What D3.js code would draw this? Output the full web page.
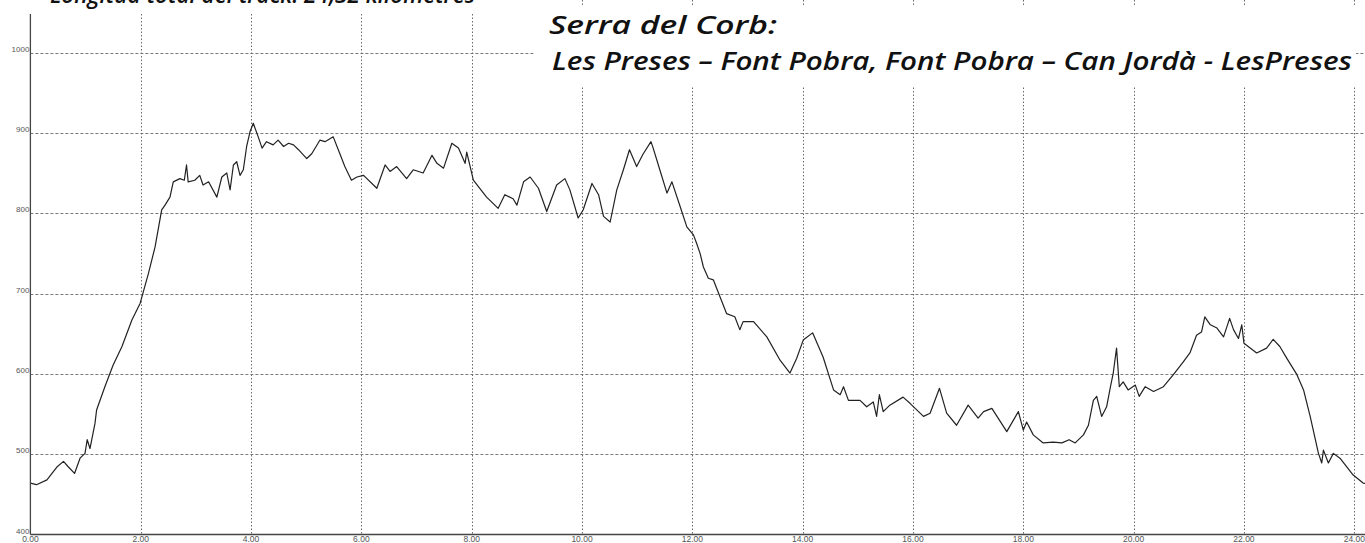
<!DOCTYPE html>
<html>
<head>
<meta charset="utf-8">
<script src="https://cdn.jsdelivr.net/npm/d3@7"></script>
<style>
  html, body { margin: 0; padding: 0; background: #fff; overflow: hidden; }
  svg { display: block; }
  .tick-label { font-family: "Liberation Sans", Arial, sans-serif; font-size: 9px; fill: #555; }
  .title { font-family: "Open Sans", sans-serif; font-style: italic; font-weight: 600; fill: #111; }
</style>
</head>
<body>
<div id="chart"></div>
<script>
// ── dades del perfil ──────────────────────────────────────────────
const distKm = [0.00,0.11,0.30,0.48,0.60,0.69,0.80,0.90,0.99,1.03,1.08,1.17,1.20,1.35,1.50,1.66,1.84,1.99,2.14,2.26,
  2.38,2.44,2.53,2.59,2.71,2.79,2.83,2.86,2.98,3.07,3.13,3.23,3.38,3.47,3.56,3.62,3.68,3.74,3.80,3.86,
  3.92,3.98,4.04,4.13,4.20,4.28,4.40,4.49,4.59,4.68,4.77,4.86,5.01,5.10,5.25,5.34,5.49,5.61,5.70,5.82,
  5.92,6.04,6.28,6.43,6.52,6.64,6.82,6.94,7.12,7.28,7.37,7.49,7.64,7.76,7.88,7.91,8.03,8.27,8.48,8.60,
  8.75,8.82,8.94,9.06,9.21,9.36,9.54,9.69,9.78,9.93,10.02,10.18,10.30,10.39,10.51,10.63,10.75,10.86,10.99,11.11,
  11.25,11.29,11.41,11.54,11.63,11.78,11.90,12.02,12.08,12.14,12.20,12.29,12.38,12.62,12.77,12.86,12.92,13.11,13.35,13.59,
  13.77,13.89,14.01,14.18,14.37,14.56,14.68,14.74,14.83,15.04,15.16,15.28,15.34,15.39,15.46,15.58,15.82,15.95,16.19,16.31,
  16.48,16.61,16.79,17.00,17.18,17.28,17.43,17.70,17.91,18.00,18.06,18.18,18.36,18.54,18.70,18.83,18.94,19.09,19.18,19.27,
  19.33,19.42,19.51,19.58,19.63,19.69,19.74,19.81,19.90,20.03,20.10,20.21,20.36,20.54,20.72,20.90,21.02,21.14,21.23,21.29,
  21.39,21.51,21.63,21.74,21.81,21.90,21.96,22.00,22.23,22.41,22.53,22.65,22.78,22.96,23.08,23.20,23.35,23.41,23.44,23.53,
  23.62,23.74,23.98,24.16,24.32];
const altitud = [464,462,468,484,491,484,476,495,501,518,507,538,555,584,611,634,667,688,725,758,
  804,810,820,839,843,841,860,839,841,847,835,839,820,845,850,829,860,864,847,854,
  883,901,912,895,881,889,885,891,883,887,885,879,868,874,891,889,895,874,858,841,
  845,847,831,860,852,858,843,854,850,872,862,856,887,881,862,876,841,820,806,823,
  818,810,839,845,831,802,835,843,829,794,804,837,823,796,789,829,854,879,858,874,
  889,881,854,825,839,808,783,773,762,750,733,719,717,675,671,655,665,665,646,617,
  601,619,642,651,621,580,574,584,567,567,559,565,547,574,553,561,571,563,547,551,
  582,551,536,561,545,553,557,528,553,530,540,524,514,515,514,518,514,524,536,567,
  572,547,559,584,601,632,584,590,580,586,572,584,578,584,599,615,626,648,652,671,
  661,657,646,669,655,644,661,638,626,632,643,634,619,599,580,547,501,489,505,489,
  501,495,474,464,462];

const xTicks = [0,2,4,6,8,10,12,14,16,18,20,22,24];
const yTicks = [400,500,600,700,800,900,1000];

const textTrack  = "Longitud total del track: 24,32 kilometres";
const titol1 = "Serra del Corb:";
const titol2 = "Les Preses \u2013 Font Pobra, Font Pobra \u2013 Can Jord\u00e0 - LesPreses";

// ── dibuix ───────────────────────────────────────────────────────
const W = 1365, H = 543;
const svg = d3.select('#chart').append('svg').attr('width', W).attr('height', H);

const x = d3.scaleLinear().domain([0, 24]).range([30.4, 1354.3]);
const y = d3.scaleLinear().domain([400, 1000]).range([534.5, 52.5]);

const grid = svg.append('g').attr('class', 'grid');

// línies horitzontals (discontínues)
grid.selectAll('line.h')
  .data(yTicks.filter(v => v > 400))
  .enter().append('line')
  .attr('class', 'h')
  .attr('x1', x(0)).attr('x2', W)
  .attr('y1', d => Math.round(y(d)) + 0.5).attr('y2', d => Math.round(y(d)) + 0.5)
  .attr('stroke', '#7a7a7a').attr('stroke-width', 1).attr('stroke-dasharray', '3,2');

// línies verticals (puntejades)
grid.selectAll('line.v')
  .data(xTicks.filter(v => v > 0))
  .enter().append('line')
  .attr('class', 'v')
  .attr('x1', d => Math.round(x(d)) + 0.5).attr('x2', d => Math.round(x(d)) + 0.5)
  .attr('y1', 0).attr('y2', y(400))
  .attr('stroke', '#6a6a6a').attr('stroke-width', 1).attr('stroke-dasharray', '1.5,2');

// perfil
const pts = distKm.map((d, i) => [d, altitud[i]]);
const line = d3.line().x(d => x(d[0])).y(d => y(d[1]));
svg.append('path')
  .datum(pts)
  .attr('d', line)
  .attr('fill', 'none')
  .attr('stroke', '#222')
  .attr('stroke-width', 1.2)
  .attr('stroke-linejoin', 'round');

// eixos
svg.append('line')
  .attr('x1', x(0)).attr('x2', x(0)).attr('y1', 0).attr('y2', y(400))
  .attr('stroke', '#444').attr('stroke-width', 1.3);
svg.append('line')
  .attr('x1', x(0)).attr('x2', W).attr('y1', y(400)).attr('y2', y(400))
  .attr('stroke', '#444').attr('stroke-width', 1.3);

// etiquetes eix Y
svg.selectAll('text.ylab')
  .data(yTicks)
  .enter().append('text')
  .attr('class', 'tick-label ylab')
  .attr('x', x(0) - 1)
  .attr('y', d => y(d) - 1)
  .attr('text-anchor', 'end')
  .style('font-size', '8px')
  .text(d => d);

// etiquetes eix X
svg.selectAll('text.xlab')
  .data(xTicks)
  .enter().append('text')
  .attr('class', 'tick-label xlab')
  .attr('x', d => x(d))
  .attr('y', 542)
  .attr('text-anchor', 'middle')
  .style('font-size', '8.5px')
  .text(d => d.toFixed(2));

// caixes blanques dels textos
svg.append('rect').attr('x', 0).attr('y', 0).attr('width', 533).attr('height', 14).attr('fill', '#fff');
svg.append('rect').attr('x', 535).attr('y', 5).attr('width', 821).attr('height', 82).attr('fill', '#fff');

// text de capçalera, tallat a dalt com a l'original
svg.append('text')
  .attr('class', 'title')
  .attr('x', 50).attr('y', 3)
  .style('font-size', '24px')
  .attr('textLength', 425).attr('lengthAdjust', 'spacingAndGlyphs')
  .text(textTrack);

svg.append('text')
  .attr('class', 'title')
  .attr('x', 549).attr('y', 34)
  .style('font-size', '26px')
  .attr('textLength', 228).attr('lengthAdjust', 'spacingAndGlyphs')
  .text(titol1);

svg.append('text')
  .attr('class', 'title')
  .attr('x', 552).attr('y', 70)
  .style('font-size', '26px')
  .attr('textLength', 800).attr('lengthAdjust', 'spacingAndGlyphs')
  .text(titol2);
</script>
</body>
</html>
